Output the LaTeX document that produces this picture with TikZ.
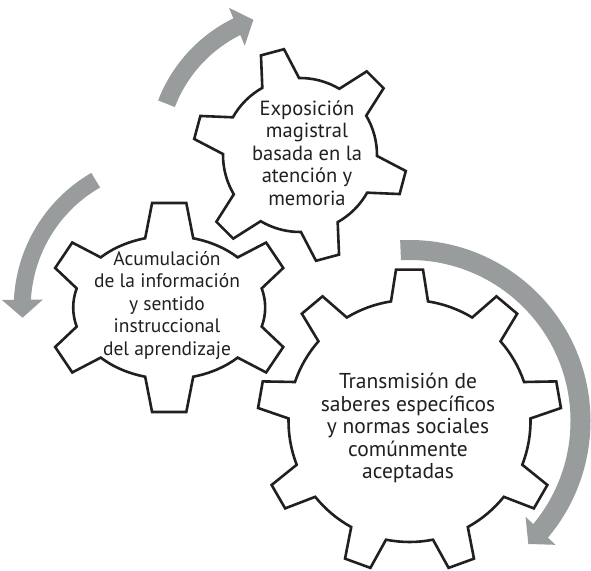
\documentclass[tikz,border=0pt]{standalone}
\usepackage{fontspec}
\setmainfont{PT Sans}
\usetikzlibrary{arrows.meta, bending}

\definecolor{inkblack}{RGB}{35,31,32}
\definecolor{arrowgray}{RGB}{152,156,157}

% gear outline: centre, teeth, first tooth angle, root radii (x,y), tip radii (x,y), half tip angle, half root angle
\newcommand{\gearshape}[9]{%
  \draw[gearline, shift={(#1)}]
    ({#4*cos(#3-#9)},{#5*sin(#3-#9)})
    \foreach \k [evaluate=\k as \ga using #3+(\k-1)*360/#2] in {1,...,#2}{
      -- ({#6*cos(\ga-#8)},{#7*sin(\ga-#8)})
      -- ({#6*cos(\ga+#8)},{#7*sin(\ga+#8)})
      -- ({#4*cos(\ga+#9)},{#5*sin(\ga+#9)})
      arc[start angle={\ga+#9}, end angle={\ga+360/#2-#9}, x radius=#4pt, y radius=#5pt]
    } -- cycle;
}

\begin{document}
\begin{tikzpicture}[
    x=1pt, y=1pt,
    gearline/.style={draw=inkblack, fill=white, line width=2.6pt, line join=miter},
    gearlabel/.style={align=center, text=inkblack, font=\fontsize{#1}{22.5}\selectfont},
    cyclearrow/.style={draw=arrowgray, line width=#1, -{Triangle[length=18pt, width=40pt]}}
]
    \useasboundingbox (0,0) rectangle (591,570);

    \coordinate (T) at (300,415);
    \coordinate (L) at (169.2,262.5);
    \coordinate (B) at (409.5,149);

    % Arrows
    \draw[cyclearrow=18pt] (T) ++(159:143pt) arc[start angle=159, end angle=109, radius=143pt];
    \draw[cyclearrow=17pt] (L) ++(120:147pt) arc[start angle=120, end angle=184, radius=147pt];
    \draw[cyclearrow=20pt] (B) ++(93:171pt) arc[start angle=93, end angle=-46, radius=171pt];

    % Gears
    \gearshape{T}{6}{45}{77}{77}{107}{107}{6.4}{14.3}
    \gearshape{L}{6}{30}{96}{71.5}{123}{105.5}{8}{14.5}
    \gearshape{B}{9}{10}{121}{121}{152}{152}{5.1}{8.8}

    % Labels
    \node[gearlabel=20.5] (expo) at (307,417) {Exposición\\magistral\\basada en la\\atención y\\memoria};
    \node[gearlabel=19.5] (acum) at (167,264.5) {Acumulación\\de la información\\y sentido\\instruccional\\del aprendizaje};
    \node[gearlabel=21.5] (trans) at (408,142) {Transmisión de\\saberes específicos\\y normas sociales\\comúnmente\\aceptadas};
\end{tikzpicture}
\end{document}
